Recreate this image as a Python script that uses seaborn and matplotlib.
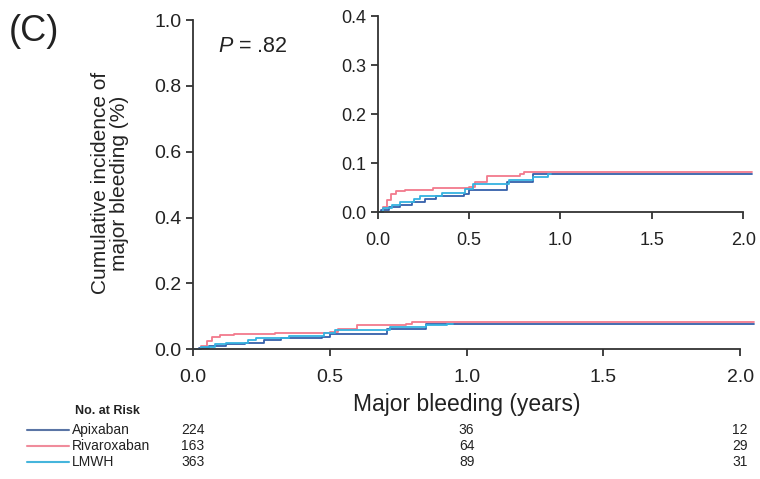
import numpy as np
import pandas as pd
import matplotlib
matplotlib.use("Agg")
import matplotlib.pyplot as plt
import matplotlib.transforms as mtransforms
from matplotlib.lines import Line2D
import seaborn as sns

# Kaplan-Meier style step data
APIXABAN_T = [0, 0.02, 0.06, 0.12, 0.19, 0.26, 0.32, 0.47, 0.5, 0.71, 0.85, 2.05]
APIXABAN_Y = [0, 0.005, 0.01, 0.015, 0.02, 0.027, 0.034, 0.038, 0.045, 0.061, 0.078, 0.078]

RIVAROXABAN_T = [0, 0.03, 0.05, 0.07, 0.1, 0.15, 0.3, 0.5, 0.53, 0.6, 0.78, 0.8, 2.05]
RIVAROXABAN_Y = [0, 0.01, 0.025, 0.038, 0.043, 0.046, 0.05, 0.052, 0.062, 0.074, 0.078, 0.083, 0.082]

LMWH_T = [0, 0.03, 0.08, 0.12, 0.2, 0.23, 0.35, 0.48, 0.52, 0.72, 0.85, 0.93, 0.95]
LMWH_Y = [0, 0.008, 0.015, 0.02, 0.027, 0.033, 0.04, 0.048, 0.058, 0.066, 0.072, 0.077, 0.077]

GROUPS = ["Apixaban", "Rivaroxaban", "LMWH"]
COLORS = ["#3560aa", "#f27a8c", "#35b2e0"]
TABLE_COLORS = ["#5a75a5", "#f08c9c", "#45b5dc"]

RISK_TIMES = [0.0, 1.0, 2.0]
RISK_COUNTS = {
    "Apixaban": [224, 36, 12],
    "Rivaroxaban": [163, 64, 29],
    "LMWH": [363, 89, 31],
}

X_TICKS = [0.0, 0.5, 1.0, 1.5, 2.0]
MAIN_Y_TICKS = [0.0, 0.2, 0.4, 0.6, 0.8, 1.0]
INSET_Y_TICKS = [0.0, 0.1, 0.2, 0.3, 0.4]

frames = []
for name, t, y in [("Apixaban", APIXABAN_T, APIXABAN_Y),
                   ("Rivaroxaban", RIVAROXABAN_T, RIVAROXABAN_Y),
                   ("LMWH", LMWH_T, LMWH_Y)]:
    frames.append(pd.DataFrame({"time": t, "inc": y, "group": name}))
df = pd.concat(frames, ignore_index=True)
palette = dict(zip(GROUPS, COLORS))

sns.set_style("ticks")
plt.rcParams["font.family"] = ["Liberation Sans", "DejaVu Sans"]
plt.rcParams["mathtext.fontset"] = "custom"
plt.rcParams["mathtext.it"] = "Liberation Sans:italic"
plt.rcParams["mathtext.rm"] = "Liberation Sans"

fig = plt.figure(figsize=(7.6, 4.79), dpi=100)
ax = fig.add_axes([0.254, 0.271, 0.738, 0.687])
inset = fig.add_axes([0.497, 0.557, 0.493, 0.409])


def style_axes(a, yticks, ytop, fs):
    sns.despine(ax=a)
    a.set_xlim(0, 2.05)
    a.set_ylim(0, ytop)
    a.set_xticks(X_TICKS)
    a.set_yticks(yticks)
    a.set_xticklabels([f"{v:.1f}" for v in X_TICKS])
    a.set_yticklabels([f"{v:.1f}" for v in yticks])
    a.spines["bottom"].set_bounds(0, 2.0)
    for s in ["left", "bottom"]:
        a.spines[s].set_color("#333333")
        a.spines[s].set_linewidth(1.3)
    a.tick_params(direction="out", length=5, width=1.3, color="#333333",
                  labelsize=fs, labelcolor="#222222")
    a.tick_params(axis="x", pad=9)
    a.set_xlabel("")
    a.set_ylabel("")
    a.patch.set_alpha(0)


for a in [ax, inset]:
    sns.lineplot(data=df, x="time", y="inc", hue="group", palette=palette,
                 hue_order=GROUPS, estimator=None, sort=False,
                 drawstyle="steps-post", linewidth=1.3, legend=False, ax=a)

style_axes(ax, MAIN_Y_TICKS, 1.0, 14)
style_axes(inset, INSET_Y_TICKS, 0.4, 13)
for line in ax.get_lines() + inset.get_lines():
    line.set_clip_on(False)

fig.text(0.012, 0.935, "(C)", fontsize=26, color="#222222", va="center")
ax.text(0.045, 0.92, r"$P$ = .82", transform=ax.transAxes, fontsize=15.5,
        color="#222222", va="center")
fig.text(110 / 760, 1 - 183 / 479, "Cumulative incidence of\nmajor bleeding (%)",
         rotation=90, ha="center", va="center", multialignment="center",
         fontsize=15, color="#222222", linespacing=1.05)
fig.text(467 / 760, 1 - 405 / 479, "Major bleeding (years)", ha="center",
         va="center", fontsize=16.5, color="#222222")

# number at risk table
trans = mtransforms.blended_transform_factory(ax.transData, fig.transFigure)
fig.text(75 / 760, 1 - 411 / 479, "No. at Risk", fontsize=9,
         fontweight="bold", va="center", color="#222222")
for i, name in enumerate(GROUPS):
    yy = 1 - (430 + 16 * i) / 479
    fig.add_artist(Line2D([27 / 760, 69 / 760], [yy, yy], color=TABLE_COLORS[i],
                          linewidth=1.5, transform=fig.transFigure))
    fig.text(72 / 760, yy, name, fontsize=10, va="center", color="#222222")
    for t, n in zip(RISK_TIMES, RISK_COUNTS[name]):
        ax.text(t, yy, str(n), transform=trans, fontsize=10, ha="center",
                va="center", color="#222222")

fig.savefig("out.png", dpi=100)
